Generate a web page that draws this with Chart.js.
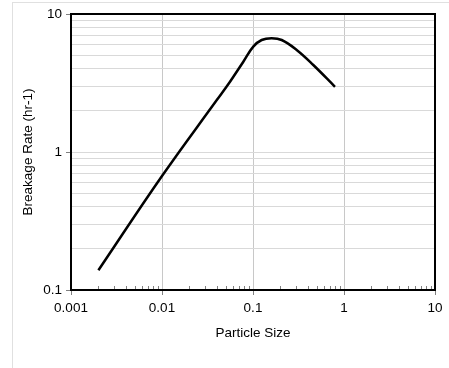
<!DOCTYPE html>
<html>
<head>
<meta charset="utf-8">
<script src="https://cdn.jsdelivr.net/npm/chart.js@4"></script>
<style>
  html, body { margin: 0; padding: 0; background: #fff; }
  #frame { position: absolute; left: 12px; top: 2px; width: 480px; height: 400px; border: 1px solid #e0e0e0; }
  #wrap { position: absolute; left: 0; top: 0; width: 449px; height: 368px; }
</style>
</head>
<body>
<div id="frame"></div>
<div id="wrap"><canvas id="chart" width="449" height="368"></canvas></div>
<script>
// Valores
const particleSize = [0.002, 0.01, 0.04, 0.0559, 0.0783, 0.1007, 0.1245, 0.16, 0.2067, 0.302, 0.46, 0.796];
const breakageRate = [0.139, 0.67, 2.38, 3.23, 4.51, 5.8, 6.48, 6.67, 6.48, 5.49, 4.27, 2.97];

const xTickValues = [0.001, 0.01, 0.1, 1, 10];
const xTickLabels = ['0.001', '0.01', '0.1', '1', '10'];
const xMinorValues = [2, 3, 4, 5, 6, 7, 8, 9];
const yTickValues = [0.1, 0.2, 0.3, 0.4, 0.5, 0.6, 0.7, 0.8, 0.9, 1, 2, 3, 4, 5, 6, 7, 8, 9, 10];
const yTickLabels = { 0.1: '0.1', 1: '1', 10: '10' };

const FONT = 'Liberation Sans, Arial, sans-serif';

function isDecade(v) {
  const l = Math.log10(v);
  return Math.abs(l - Math.round(l)) < 1e-9;
}

// Borda preta e riscos menores dentro do eixo x
const framePlugin = {
  id: 'framePlugin',
  afterDraw(chart) {
    const { ctx, chartArea: a, scales } = chart;
    ctx.save();
    ctx.strokeStyle = '#808080';
    ctx.lineWidth = 1;
    xTickValues.slice(0, -1).forEach(d => {
      xMinorValues.forEach(m => {
        const px = Math.round(scales.x.getPixelForValue(d * m)) + 0.5;
        ctx.beginPath();
        ctx.moveTo(px, a.bottom);
        ctx.lineTo(px, a.bottom - 4);
        ctx.stroke();
      });
    });
    ctx.strokeStyle = '#000';
    ctx.lineWidth = 2;
    ctx.strokeRect(a.left, a.top, a.right - a.left, a.bottom - a.top);
    ctx.restore();
  }
};

new Chart(document.getElementById('chart'), {
  type: 'line',
  data: {
    datasets: [{
      data: particleSize.map((x, i) => ({ x, y: breakageRate[i] })),
      borderColor: '#000',
      borderWidth: 2.5,
      pointRadius: 0,
      fill: false,
      tension: 0.4
    }]
  },
  options: {
    responsive: false,
    animation: false,
    events: [],
    layout: { padding: { left: 0, top: 14, right: 14, bottom: 0 } },
    plugins: { legend: { display: false }, tooltip: { enabled: false } },
    scales: {
      x: {
        type: 'logarithmic',
        min: 0.001,
        max: 10,
        afterBuildTicks: s => { s.ticks = xTickValues.map(v => ({ value: v })); },
        afterFit: s => { s.height = 78; },
        border: { display: false },
        grid: {
          color: '#c8c8c8',
          tickColor: '#808080',
          tickLength: 5
        },
        ticks: {
          autoSkip: false,
          maxRotation: 0,
          padding: 5,
          color: '#000',
          font: { family: FONT, size: 13.5 },
          callback: (v, i) => xTickLabels[i]
        },
        title: {
          display: true,
          text: 'Particle Size',
          color: '#000',
          font: { family: FONT, size: 13.5 },
          padding: { top: 0, bottom: 27 }
        }
      },
      y: {
        type: 'logarithmic',
        min: 0.1,
        max: 10,
        afterBuildTicks: s => { s.ticks = yTickValues.map(v => ({ value: v })); },
        afterFit: s => { s.width = 71; },
        border: { display: false },
        grid: {
          color: '#d9d9d9',
          tickColor: c => (c.tick && isDecade(c.tick.value)) ? '#808080' : 'rgba(0,0,0,0)',
          tickLength: 5
        },
        ticks: {
          autoSkip: false,
          padding: 4,
          color: '#000',
          font: { family: FONT, size: 13.5 },
          callback: v => yTickLabels[v] || ''
        },
        title: {
          display: true,
          text: 'Breakage Rate (hr-1)',
          color: '#000',
          font: { family: FONT, size: 13.5 },
          padding: { top: 20, bottom: 0 }
        }
      }
    }
  },
  plugins: [framePlugin]
});
</script>
</body>
</html>
